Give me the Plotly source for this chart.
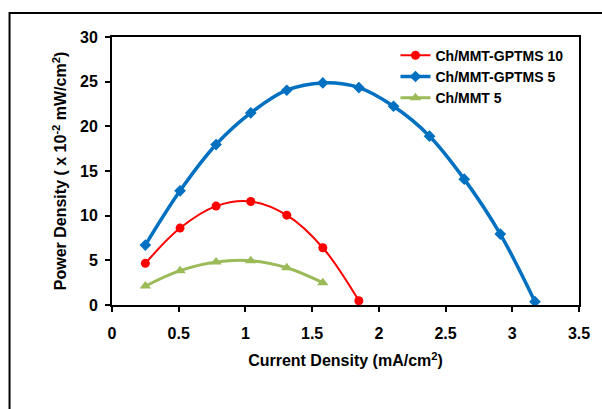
import plotly.graph_objects as go

x_red = [0.25, 0.51, 0.78, 1.04, 1.31, 1.58, 1.85]
y_red = [4.66, 8.61, 11.07, 11.59, 10.06, 6.41, 0.48]

x_blue = [0.25, 0.51, 0.78, 1.04, 1.31, 1.58, 1.85, 2.11, 2.38, 2.64, 2.91, 3.17]
y_blue = [6.71, 12.78, 17.96, 21.5, 24.04, 24.86, 24.34, 22.25, 18.9, 14.09, 7.94, 0.37]

x_green = [0.25, 0.51, 0.78, 1.04, 1.31, 1.58]
y_green = [2.12, 3.84, 4.81, 4.96, 4.17, 2.5]

names = ["Ch/MMT-GPTMS 10", "Ch/MMT-GPTMS 5", "Ch/MMT 5"]

fig = go.Figure()
fig.add_trace(go.Scatter(x=x_red, y=y_red, name=names[0], mode="lines+markers",
                         line=dict(color="#FF0000", width=2, shape="spline"),
                         marker=dict(symbol="circle", size=9, color="#FF0000")))
fig.add_trace(go.Scatter(x=x_blue, y=y_blue, name=names[1], mode="lines+markers",
                         line=dict(color="#0070C0", width=3.5, shape="spline"),
                         marker=dict(symbol="diamond", size=9, color="#0070C0")))
fig.add_trace(go.Scatter(x=x_green, y=y_green, name=names[2], mode="lines+markers",
                         line=dict(color="#9BBB59", width=3, shape="spline"),
                         marker=dict(symbol="triangle-up", size=10, color="#9BBB59")))

fam = "Liberation Sans, Arial, sans-serif"

fig.update_layout(
    width=602, height=409,
    margin=dict(l=112, r=16, t=37, b=104),
    paper_bgcolor="white", plot_bgcolor="white",
    font=dict(family=fam, color="black"),
    showlegend=True,
    legend=dict(x=0.607, y=0.99, xanchor="left", yanchor="top",
                font=dict(size=14, family=fam, color="black", weight="bold"),
                bgcolor="rgba(0,0,0,0)", tracegroupgap=0, itemwidth=30),
    xaxis=dict(range=[0, 3.5], dtick=0.5, tick0=0, showgrid=False, zeroline=False,
               showline=True, linecolor="black", linewidth=2, mirror=True,
               ticks="outside", ticklen=5, tickwidth=2, tickcolor="black",
               ticklabelstandoff=8,
               tickfont=dict(size=16, weight="bold"),
               title=dict(text="Current Density (mA/cm<sup>2</sup>)", font=dict(size=16, weight="bold"), standoff=14)),
    yaxis=dict(range=[0, 30], dtick=5, showgrid=False, zeroline=False,
               showline=True, linecolor="black", linewidth=2, mirror=True,
               ticks="outside", ticklen=5, tickwidth=2, tickcolor="black",
               ticklabelstandoff=4,
               tickfont=dict(size=16, weight="bold"),
               title=dict(text="Power Density ( x 10<sup>-2</sup> mW/cm<sup>2</sup>)", font=dict(size=16, weight="bold"), standoff=9)),
)

fig.add_shape(type="rect", xref="paper", yref="paper",
              x0=(8 - 112) / 474, x1=(630 - 112) / 474,
              y0=(305 - 415) / 268, y1=(305 - 13) / 268,
              line=dict(color="black", width=2), layer="below")

fig.write_html("out.html", config={"displayModeBar": False},
               post_script="document.body.style.margin='0';document.body.style.overflow='hidden';")
